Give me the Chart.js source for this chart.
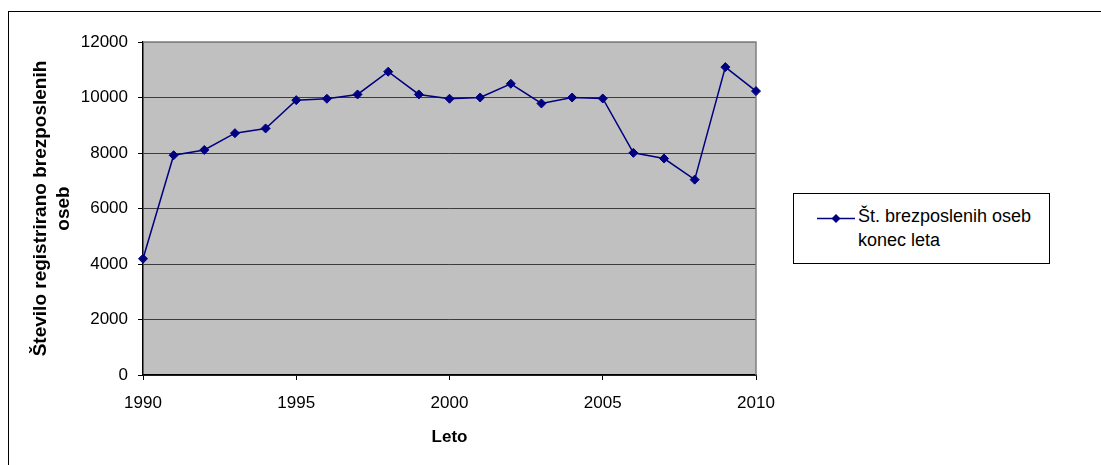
<!DOCTYPE html>
<html>
<head>
<meta charset="utf-8">
<script src="https://cdn.jsdelivr.net/npm/chart.js@4"></script>
<style>
  body { margin: 0; background: #fff; overflow: hidden; }
  .wrap { position: relative; width: 1101px; height: 465px; overflow: hidden; }
  .frame { position: absolute; left: 8px; top: 11px; width: 1200px; height: 600px; border: 1.5px solid #000; }
  #chart { position: absolute; left: 0; top: 0; }
  .legend { position: absolute; left: 793px; top: 193px; width: 255px; height: 69px; border: 1px solid #000; background: #fff; }
  .legend svg { position: absolute; left: 23px; top: 15px; }
  .legend .label { position: absolute; left: 64px; top: 10px; font-family: "Liberation Sans", Arial, sans-serif; font-size: 18px; line-height: 24px; color: #000; }
</style>
</head>
<body>
<div class="wrap">
  <div class="frame"></div>
  <canvas id="chart" width="1101" height="465"></canvas>
  <div class="legend">
    <svg width="40" height="20">
      <line x1="0" y1="9.5" x2="38" y2="9.5" stroke="#000080" stroke-width="1.5"/>
      <polygon points="19,5 23.5,9.5 19,14 14.5,9.5" fill="#000080"/>
    </svg>
    <div class="label">Št. brezposlenih oseb<br>konec leta</div>
  </div>
</div>
<script>
const years = [1990, 1991, 1992, 1993, 1994, 1995, 1996, 1997, 1998, 1999, 2000,
  2001, 2002, 2003, 2004, 2005, 2006, 2007, 2008, 2009, 2010];
const unemployed = [4190, 7920, 8110, 8715, 8885, 9905, 9955, 10110, 10930, 10110, 9955,
  10000, 10495, 9785, 10000, 9965, 8005, 7800, 7040, 11095, 10230];

const seriesLabel = "Št. brezposlenih oseb konec leta";
const xTitle = "Leto";
const yTitle = ["Število registrirano brezposlenih", "oseb"];

const fontFamily = "'Liberation Sans', Arial, sans-serif";

const points = years.map((year, i) => ({ x: year, y: unemployed[i] }));

// grey plot area with grey top/right edge, like the old Excel charts
const plotArea = {
  id: "plotArea",
  beforeDraw: (chart) => {
    const { ctx, chartArea: a } = chart;
    ctx.save();
    ctx.fillStyle = "#c0c0c0";
    ctx.fillRect(a.left, a.top, a.right - a.left, a.bottom - a.top);
    ctx.restore();
  },
  beforeDatasetsDraw: (chart) => {
    const { ctx, chartArea: a } = chart;
    ctx.save();
    ctx.strokeStyle = "#808080";
    ctx.lineWidth = 1.5;
    ctx.beginPath();
    ctx.moveTo(a.left, a.top);
    ctx.lineTo(a.right, a.top);
    ctx.lineTo(a.right, a.bottom);
    ctx.stroke();
    ctx.restore();
  }
};

const ctx = document.getElementById("chart").getContext("2d");
const myChart = new Chart(ctx, {
  type: "line",
  data: {
    datasets: [{
      label: seriesLabel,
      data: points,
      borderColor: "#000080",
      backgroundColor: "#000080",
      borderWidth: 1.5,
      pointStyle: "rectRot",
      pointRadius: 4.5,
      pointBorderWidth: 1,
      tension: 0,
      clip: false
    }]
  },
  options: {
    responsive: false,
    animation: false,
    layout: { padding: { left: 0, top: 42, right: 345, bottom: 0 } },
    plugins: {
      legend: { display: false },
      tooltip: { enabled: false }
    },
    scales: {
      x: {
        type: "linear",
        min: 1990,
        max: 2010,
        afterFit: (scale) => { scale.height = 90; },
        ticks: {
          stepSize: 5,
          color: "#000",
          padding: 13,
          font: { family: fontFamily, size: 17 },
          callback: (value) => String(value)
        },
        grid: { drawOnChartArea: false, drawTicks: true, tickLength: 5, tickColor: "#000" },
        border: { color: "#000", width: 1.5 },
        title: {
          display: true,
          text: xTitle,
          color: "#000",
          font: { family: fontFamily, size: 17, weight: "bold" },
          padding: { top: 0, bottom: 17 }
        }
      },
      y: {
        min: 0,
        max: 12000,
        afterFit: (scale) => { scale.width = 143; },
        ticks: {
          stepSize: 2000,
          color: "#000",
          padding: 10,
          font: { family: fontFamily, size: 17 },
          callback: (value) => String(value)
        },
        grid: {
          color: (c) => (c.tick && c.tick.value === 12000 ? "#808080" : "#3c3c3c"),
          lineWidth: 1,
          tickLength: 5,
          tickColor: "#000"
        },
        border: { color: "#000", width: 1.5 },
        title: {
          display: true,
          text: yTitle,
          color: "#000",
          font: { family: fontFamily, size: 19, weight: "bold", lineHeight: "23px" },
          padding: { top: 29, bottom: 0 }
        }
      }
    }
  },
  plugins: [plotArea]
});
</script>
</body>
</html>
